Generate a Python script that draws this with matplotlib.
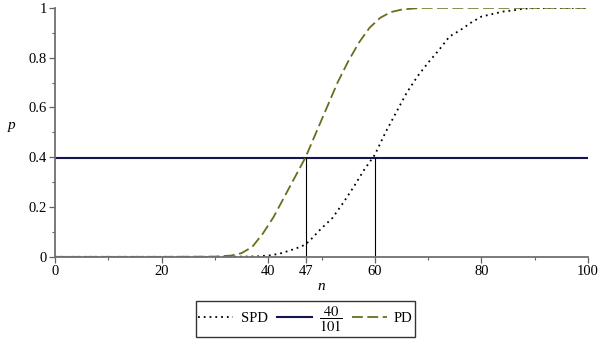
import matplotlib
matplotlib.use("Agg")
import matplotlib.pyplot as plt

# values
n_pd = [0, 10, 20, 30, 33, 35, 37, 39, 41, 43, 45, 47, 49, 51, 53, 55, 57, 59,
        61, 63, 65, 67, 69, 80, 100]
p_pd = [0, 0, 0, 0.001, 0.005, 0.015, 0.04, 0.094, 0.16, 0.24, 0.32, 0.40,
        0.50, 0.60, 0.70, 0.785, 0.86, 0.92, 0.96, 0.983, 0.993, 0.997, 1.0,
        1.0, 1.0]

n_spd = [0, 10, 20, 30, 36, 38, 40, 42, 44, 46, 47, 48, 50, 52, 54, 56, 58,
         60, 62, 64, 66, 68, 70, 72, 74, 76, 78, 80, 82, 84, 86, 88, 90, 92, 100]
p_spd = [0, 0, 0, 0, 0.001, 0.002, 0.005, 0.012, 0.025, 0.04, 0.05, 0.07,
         0.115, 0.155, 0.215, 0.28, 0.35, 0.41, 0.50, 0.58, 0.66, 0.725, 0.78,
         0.83, 0.885, 0.91, 0.94, 0.965, 0.975, 0.985, 0.99, 0.997, 0.999,
         1.0, 1.0]

threshold = 40 / 101
n_marks = [47, 60]

plt.rcParams['font.family'] = ['Liberation Serif', 'DejaVu Serif']
plt.rcParams['mathtext.fontset'] = 'stix'

fig = plt.figure(figsize=(6.05, 3.42), dpi=100)
ax = fig.add_axes([0.091, 0.249, 0.881, 0.728])

l_spd, = ax.plot(n_spd, p_spd, color='black', linestyle=(0, (1, 2.2)),
                 lw=1.3, label='SPD')
l_thr = ax.axhline(threshold, color='#141450', lw=1.5,
                   label=r'$\dfrac{40}{101}$')
l_pd, = ax.plot(n_pd, p_pd, color='#6b6d1e', linestyle=(0, (6, 2.5)),
                lw=1.3, label='PD')
for nm in n_marks:
    ax.plot([nm, nm], [0, threshold], color='black', lw=0.8)

ax.set_xlim(0, 100)
ax.set_ylim(0, 1)
ax.set_xticks([0, 20, 40, 47, 60, 80, 100])
ax.set_xticks([10, 30, 50, 70, 90], minor=True)
ax.set_yticks([0, 0.2, 0.4, 0.6, 0.8, 1])
ax.set_yticklabels(['0', '0.2', '0.4', '0.6', '0.8', '1'])
ax.set_yticks([0.1, 0.3, 0.5, 0.7, 0.9], minor=True)
ax.tick_params(labelsize=10.5, colors='#606060', labelcolor='black',
               length=4, width=0.9, pad=2)
ax.tick_params(which='minor', length=2.5, width=0.8, colors='#606060')

for side in ['top', 'right']:
    ax.spines[side].set_visible(False)
for side in ['left', 'bottom']:
    ax.spines[side].set_color('#707070')
    ax.spines[side].set_linewidth(1.3)

ax.set_xlabel('n', style='italic', fontsize=11, labelpad=1)
ax.set_ylabel('p', style='italic', fontsize=11, rotation=0, labelpad=12)

leg = fig.legend(handles=[l_spd, l_thr, l_pd], loc='center',
                 bbox_to_anchor=(0.505, 0.067), ncol=3, fontsize=10.5,
                 frameon=True, fancybox=False, handlelength=2.4,
                 handletextpad=0.5, columnspacing=0.6, borderpad=0.2)
leg.get_frame().set_edgecolor('black')
leg.get_frame().set_linewidth(1.0)

fig.savefig('out.png', dpi=100)
